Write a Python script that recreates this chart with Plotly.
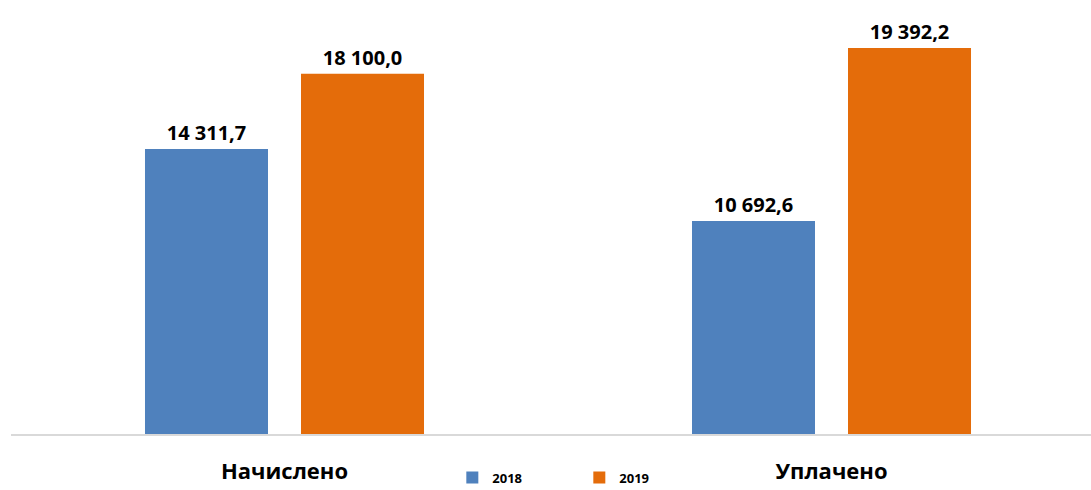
import plotly.graph_objects as go

categories = ["Начислено", "Уплачено"]
series_names = ["2018", "2019"]
values_2018 = [14311.7, 10692.6]
values_2019 = [18100.0, 19392.2]
colors = ["#4F81BD", "#E46C0A"]

FONT = "'Open Sans', 'Noto Sans', sans-serif"

fig = go.Figure()
for name, vals, col in zip(series_names, [values_2018, values_2019], colors):
    fig.add_trace(go.Bar(
        x=categories, y=vals, name="<b>%s</b>" % name,
        marker=dict(color=col, line=dict(width=0)),
        texttemplate="<b>%{y:,.1f}</b>", textposition="outside",
        constraintext="none",
        textfont=dict(size=20, color="#000000", family=FONT),
        cliponaxis=False,
    ))

fig.update_layout(
    width=1091, height=490,
    margin=dict(l=11, r=0, t=10, b=56, autoexpand=False),
    paper_bgcolor="white", plot_bgcolor="white",
    separators=", ",
    barmode="group", bargap=0.4296, bargroupgap=0.2115,
    font=dict(family=FONT, color="#000000"),
    showlegend=True,
    legend=dict(orientation="h", x=0.531, xanchor="center", xref="container",
                y=0.056, yanchor="top", yref="container",
                font=dict(size=13, family=FONT, color="#000000"),
                itemwidth=30, entrywidth=82, traceorder="normal"),
)
fig.update_xaxes(
    range=[-0.5, 1.4744], showgrid=False, zeroline=False, automargin=False,
    showline=True, linecolor="#D9D9D9", linewidth=2,
    ticks="", ticklabelstandoff=17,
    tickfont=dict(size=22, family=FONT, color="#000000"),
    tickvals=categories, ticktext=["<b>%s</b>" % c for c in categories],
)
fig.update_yaxes(range=[0, 21296], visible=False, showgrid=False, zeroline=False, automargin=False)

fig.write_html("out.html", config={"displayModeBar": False},
               post_script="document.body.style.margin='0';document.body.style.overflow='hidden';")
